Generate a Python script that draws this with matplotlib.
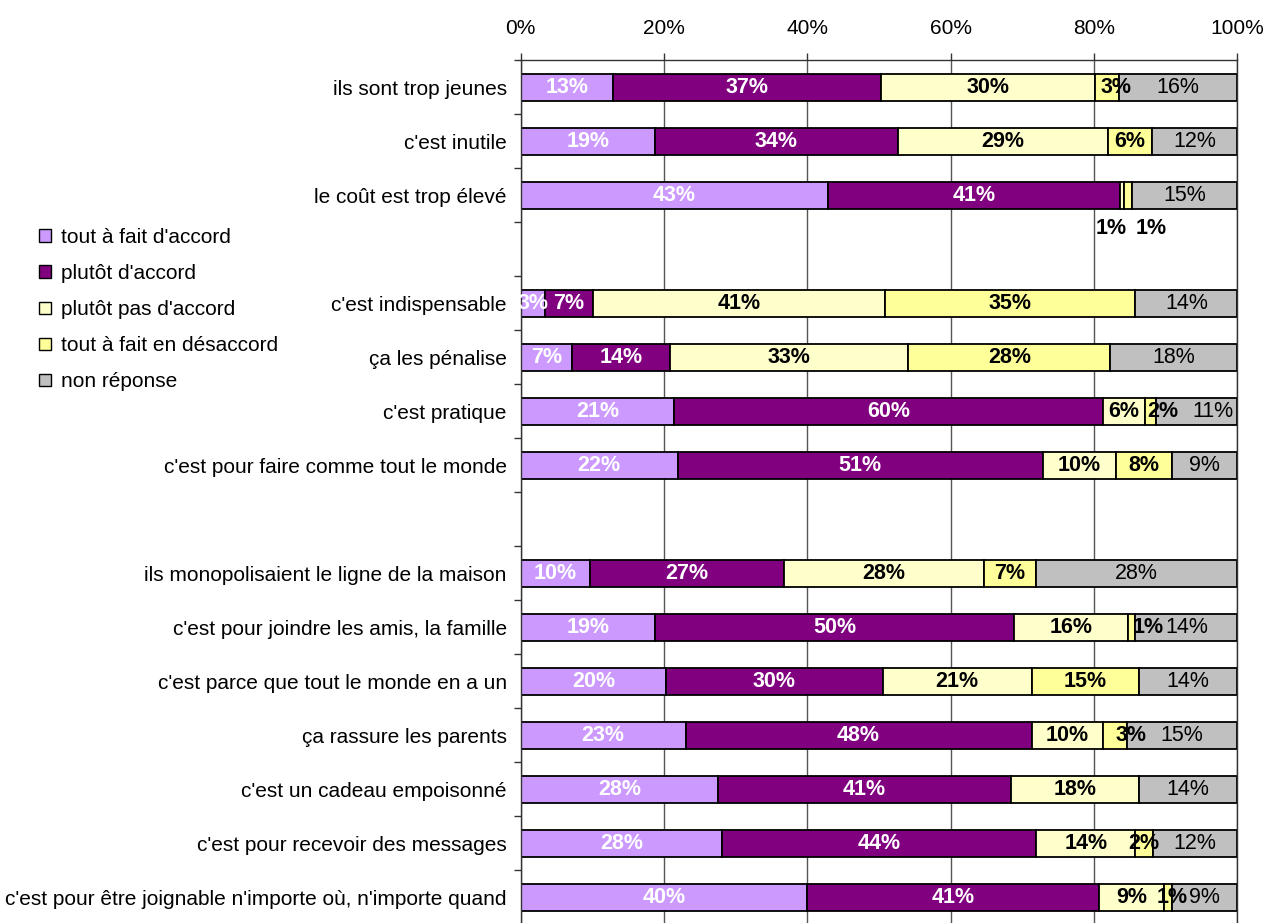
import matplotlib
matplotlib.use("Agg")
import matplotlib.pyplot as plt
from matplotlib.patches import Patch
import numpy as np

plt.rcParams['font.family'] = ['Liberation Sans', 'DejaVu Sans']

# categories, top to bottom ("" = blank slot)
cats = ["ils sont trop jeunes", "c'est inutile", "le coût est trop élevé", "",
        "c'est indispensable", "ça les pénalise", "c'est pratique",
        "c'est pour faire comme tout le monde", "",
        "ils monopolisaient le ligne de la maison",
        "c'est pour joindre les amis, la famille",
        "c'est parce que tout le monde en a un",
        "ça rassure les parents", "c'est un cadeau empoisonné",
        "c'est pour recevoir des messages",
        "c'est pour être joignable n'importe où, n'importe quand"]

series_names = ["tout à fait d'accord", "plutôt d'accord", "plutôt pas d'accord",
                "tout à fait en désaccord", "non réponse"]

tout_a_fait = [12.9, 18.7, 42.9, None, 3.4, 7.2, 21.4, 21.9, None, 9.6, 18.7, 20.3, 23.0, 27.6, 28.1, 40.0]
plutot = [37.4, 33.9, 40.7, None, 6.7, 13.7, 59.8, 51.0, None, 27.1, 50.2, 30.2, 48.3, 40.8, 43.8, 40.7]
plutot_pas = [29.8, 29.4, 0.6, None, 40.8, 33.2, 5.9, 10.2, None, 27.9, 15.9, 20.8, 9.9, 17.9, 13.9, 9.1]
desaccord = [3.4, 6.1, 1.1, None, 34.9, 28.2, 1.6, 7.8, None, 7.3, 1.0, 15.0, 3.4, 0.0, 2.4, 1.1]
non_rep = [16.5, 11.9, 14.7, None, 14.2, 17.7, 11.3, 9.1, None, 28.1, 14.2, 13.7, 15.4, 13.7, 11.8, 9.1]

colors = ['#CC99FF', '#800080', '#FFFFCC', '#FFFF99', '#C0C0C0']
txt_colors = ['white', 'white', 'black', 'black', 'black']
txt_weights = ['bold', 'bold', 'bold', 'bold', 'normal']

# label nudges (points) where the labels of thin segments drift right
nudge = {(0, 3): 6.5, (6, 3): 9, (6, 4): 12, (10, 3): 11.5, (12, 3): 12, (15, 3): 3}

FS = 15
LFS = 15.5

fig = plt.figure(figsize=(12.67, 9.23), dpi=100)
ax = fig.add_axes([0.411, -0.0014, 0.5655, 0.9361])

allser = [tout_a_fait, plutot, plutot_pas, desaccord, non_rep]
rows = np.arange(len(cats))
left = np.zeros(len(cats))
for k, ser in enumerate(allser):
    for i, v in enumerate(ser):
        if v is None or v == 0:
            continue
        ax.barh(i, v, left=left[i], height=0.5, color=colors[k],
                edgecolor='black', linewidth=1.3, zorder=2)
        c = left[i] + v / 2
        lab = "%d%%" % round(v)
        if i == 2 and k in (2, 3):
            # tiny segments: labels pushed under the bar
            if k == 2:
                ax.annotate(lab, xy=(c, i), xytext=(3.6, -24), textcoords='offset points',
                            ha='right', va='center', fontsize=LFS, fontweight='bold', color='black')
            else:
                ax.annotate(lab, xy=(c, i), xytext=(5.4, -24), textcoords='offset points',
                            ha='left', va='center', fontsize=LFS, fontweight='bold', color='black')
        else:
            ax.annotate(lab, xy=(c, i), xytext=(nudge.get((i, k), 0), 0),
                        textcoords='offset points', ha='center', va='center',
                        fontsize=LFS, color=txt_colors[k], fontweight=txt_weights[k], zorder=3)
        left[i] += v

ax.set_xlim(0, 100)
ax.set_ylim(len(cats) - 0.5, -0.5)

ax.xaxis.tick_top()
ax.set_xticks(np.arange(0, 101, 20))
ax.set_xticklabels(["%d%%" % t for t in range(0, 101, 20)])
ax.tick_params(axis='x', which='major', length=5, width=1, pad=11, labelsize=FS, color='#333333')
ax.xaxis.grid(True, color='#555555', linewidth=1, zorder=0)
ax.set_axisbelow(True)

ax.set_yticks(rows)
ax.set_yticklabels(cats)
ax.set_yticks(np.arange(-0.5, len(cats), 1), minor=True)
ax.tick_params(axis='y', which='major', length=0, pad=10, labelsize=FS)
ax.tick_params(axis='y', which='minor', length=5, width=1, color='#333333')

ax.spines['bottom'].set_visible(False)
for s in ['top', 'left', 'right']:
    ax.spines[s].set_color('#333333')
    ax.spines[s].set_linewidth(1)

handles = [Patch(facecolor=colors[k], edgecolor='black', linewidth=1) for k in range(5)]
fig.legend(handles, series_names, loc='upper left', bbox_to_anchor=(0.031, 0.753),
           frameon=False, fontsize=FS, handlelength=0.55, handleheight=0.55,
           handletextpad=0.5, labelspacing=0.82, borderpad=0, borderaxespad=0)

fig.savefig("out.png", dpi=100)
